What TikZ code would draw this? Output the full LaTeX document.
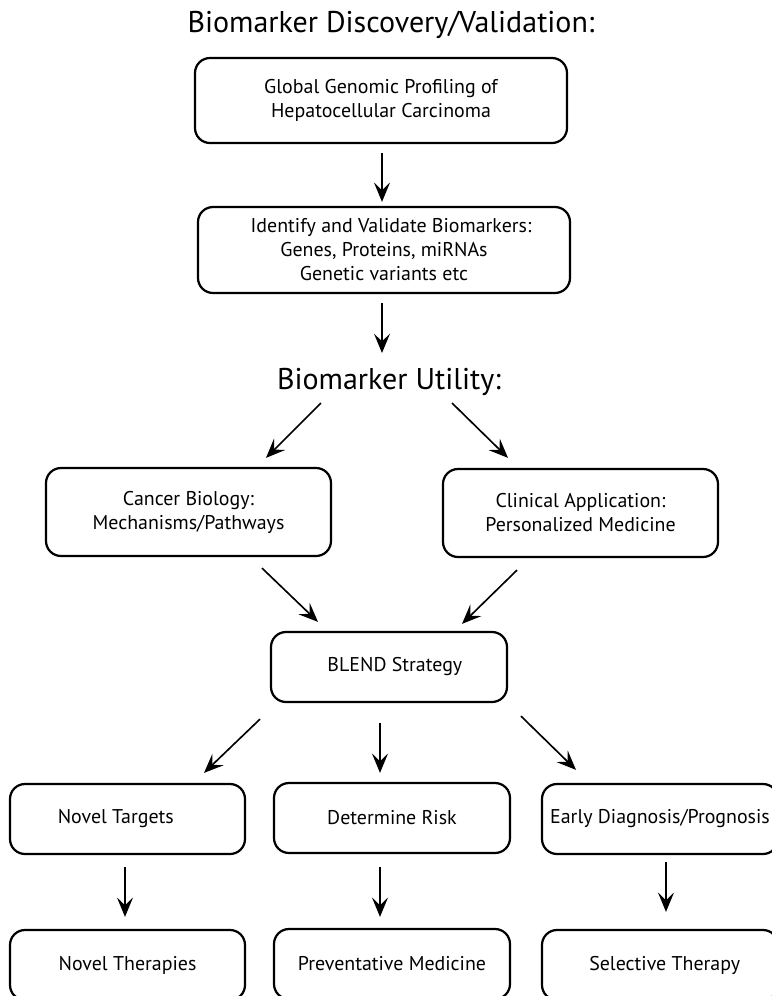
\documentclass[tikz,border=0pt]{standalone}
\usepackage{fontspec}
\setmainfont{PT Sans}
\usetikzlibrary{arrows.meta}

\begin{document}
\begin{tikzpicture}[x=0.3mm, y=-0.3mm]

      \tikzset{stage/.style={draw, rounded corners=4.5mm, line width=1.9pt, align=center, inner sep=0pt, font=\fontsize{17}{20.5}\selectfont},
               heading/.style={inner sep=0pt, anchor=base, font=\fontsize{25.6}{30}\selectfont},
               arr/.style={-{Stealth[length=5.8mm, width=4.8mm, inset=2.3mm]}, line width=1.4pt}}
      \useasboundingbox (0,0) rectangle (772,996);
      \clip (0,0) rectangle (772,996);
%% Headings
      	\node[heading] (disc) at (391,32) {Biomarker Discovery/Validation:};
      	\node[heading] (util) at (389,389) {Biomarker Utility:};
%% Boxes
      	\node[stage, minimum width=111.6mm, minimum height=25.5mm] (gp) at (381,100.5) {Global Genomic Profiling of\\Hepatocellular Carcinoma};
      	\node[stage, minimum width=111.6mm, minimum height=25.8mm] (ivb) at (384,250) {\hspace*{12pt}Identify and Validate Biomarkers:\\Genes, Proteins, miRNAs\\Genetic variants etc};
      	\node[stage, minimum width=85.5mm, minimum height=26.4mm] (cb) at (188.5,512) {Cancer Biology:\\Mechanisms/Pathways};
      	\node[stage, minimum width=82.5mm, minimum height=26.4mm] (ca) at (580.5,513) {Clinical Application:\\Personalized Medicine};
      	\node[stage, minimum width=70.8mm, minimum height=21mm] (blend) at (389,667) {\hspace*{10pt}BLEND Strategy};
      	\node[stage, minimum width=70.5mm, minimum height=21mm] (nt) at (127.5,819) {Novel Targets\hspace*{20pt}};
      	\node[stage, minimum width=70.8mm, minimum height=21mm] (dr) at (392,818) {Determine Risk};
      	\node[stage, minimum width=70.8mm, minimum height=21mm] (ed) at (660,819) {Early Diagnosis/Prognosis};
      	\node[stage, minimum width=70.5mm, minimum height=21mm] (nth) at (127.5,965) {Novel Therapies};
      	\node[stage, minimum width=70.8mm, minimum height=21mm] (pm) at (392,964) {Preventative Medicine};
      	\node[stage, minimum width=70.8mm, minimum height=21mm] (st) at (660,965) {\hspace*{8pt}Selective Therapy};
%% Arrows
		\path[arr] ([shift={(1,9)}]gp.south) edge ([shift={(-2,-4)}]ivb.north);
		\path[arr] ([shift={(-2,9)}]ivb.south) edge ([shift={(-7,-36)}]util.base);
		\path[arr] ([shift={(-68,14)}]util.base) edge ([shift={(77.5,-9)}]cb.north);
		\path[arr] ([shift={(63,14)}]util.base) edge ([shift={(-72.5,-10)}]ca.north);
		\path[arr] ([shift={(73.5,11)}]cb.south) edge ([shift={(-71,-9)}]blend.north);
		\path[arr] ([shift={(-63.5,12)}]ca.south) edge ([shift={(73,-7)}]blend.north);
		\path[arr] ([shift={(-129,16)}]blend.south) edge ([shift={(76.5,-10)}]nt.north);
		\path[arr] ([shift={(-9,20)}]blend.south) edge ([shift={(-12,-9)}]dr.north);
		\path[arr] ([shift={(132,13)}]blend.south) edge ([shift={(-84,-13)}]ed.north);
		\path[arr] ([shift={(-2.5,12)}]nt.south) edge ([shift={(-2.5,-12)}]nth.north);
		\path[arr] ([shift={(-12,13)}]dr.south) edge ([shift={(-12,-11)}]pm.north);
		\path[arr] ([shift={(6,7)}]ed.south) edge ([shift={(6,-17)}]st.north);

	\end{tikzpicture}
\end{document}
